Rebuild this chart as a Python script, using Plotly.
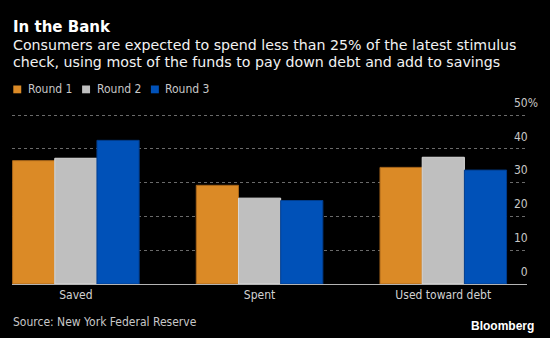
import plotly.graph_objects as go

# Share of the stimulus check, by survey round (percent)
categories = ["Saved", "Spent", "Used toward debt"]
series_names = ["Round 1", "Round 2", "Round 3"]
round1 = [36.5, 29.2, 34.5]
round2 = [37.2, 25.4, 37.5]
round3 = [42.5, 24.7, 33.7]
series_values = [round1, round2, round3]

y_ticks = [0, 10, 20, 30, 40, 50]
y_tick_labels = ["0", "10", "20", "30", "40", "50%"]

colors = ["#DB8A26", "#BFBFBF", "#0051B8"]
edge_colors = ["#A8661A", "#D9D9D9", "#003C8C"]

W, H = 550, 338
ML, MR, MT, MB = 12, 20, 92, 54
PW, PH = W - ML - MR, H - MT - MB
PX_PER_UNIT = 169 / 50          # vertical pixels per percentage point
Y_MAX = PH / PX_PER_UNIT        # headroom above the 50% line for its label

REG = "DejaVu Sans Condensed, DejaVu Sans, sans-serif"
SUB = "DejaVu Sans, sans-serif"
BOLD = "DejaVu Sans, sans-serif"


def px_x(x):
    return (x - ML) / PW


def px_y(y):
    return (H - MB - y) / PH


fig = go.Figure()
xs = list(range(len(categories)))
for name, vals, c, ec in zip(series_names, series_values, colors, edge_colors):
    fig.add_trace(go.Bar(
        x=xs, y=vals, name=name,
        marker=dict(color=c, line=dict(color=ec, width=1)),
        showlegend=False, hoverinfo="skip",
    ))

annotations = [
    dict(text="<b>In the Bank</b>", x=px_x(11), y=px_y(26.5),
         font=dict(family=BOLD, size=15, color="#ffffff")),
    dict(text="Consumers are expected to spend less than 25% of the latest stimulus",
         x=px_x(11), y=px_y(45), font=dict(family=SUB, size=14.2, color="#f2f2f2")),
    dict(text="check, using most of the funds to pay down debt and add to savings",
         x=px_x(11), y=px_y(61.8), font=dict(family=SUB, size=14.2, color="#f2f2f2")),
    dict(text="Source: New York Federal Reserve", x=px_x(11), y=px_y(322),
         font=dict(family=REG, size=12, color="#c8c8c8")),
    dict(text="<b>Bloomberg</b>", x=px_x(539), y=px_y(326), xanchor="right",
         font=dict(family="Liberation Sans, Arial, sans-serif", size=12, color="#ffffff")),
]

# Legend row: small square swatches followed by the series name
shapes = []
step = 69.2
for i, (name, c) in enumerate(zip(series_names, colors)):
    x0 = 13.3 + i * step
    shapes.append(dict(type="rect", xref="paper", yref="paper",
                       x0=px_x(x0), x1=px_x(x0 + 8), y0=px_y(93.3), y1=px_y(85.5),
                       fillcolor=c, line=dict(width=0)))
    annotations.append(dict(text=name, x=px_x(x0 + 12.5), y=px_y(89),
                            font=dict(family=REG, size=12, color="#c8c8c8")))

for a in annotations:
    a.setdefault("xref", "paper")
    a.setdefault("yref", "paper")
    a.setdefault("xanchor", "left")
    a.setdefault("yanchor", "middle")
    a.setdefault("showarrow", False)
    a.setdefault("align", "left")

# pad the plain numbers so their digits line up with the "50" of "50%"
pad = "\u00a0" * 3
tick_text = [t if t.endswith("%") else t + pad for t in y_tick_labels]

fig.update_layout(
    width=W, height=H,
    margin=dict(l=ML, r=MR, t=MT, b=MB, pad=0),
    paper_bgcolor="#000000", plot_bgcolor="#000000",
    barmode="group", bargap=0.311, bargroupgap=0,
    annotations=annotations, shapes=shapes,
    showlegend=False,
    xaxis=dict(
        range=[-0.3476, 2.4557], tickmode="array", tickvals=xs, ticktext=categories,
        showgrid=False, zeroline=False, showline=True, linecolor="#b4b4b4", linewidth=1,
        ticks="", tickfont=dict(family=REG, size=12, color="#d2d2d2"), fixedrange=True,
    ),
    yaxis=dict(
        range=[0, Y_MAX], side="right", tickmode="array", tickvals=y_ticks, ticktext=tick_text,
        showgrid=True, gridcolor="#6a6a6a", griddash="dot", gridwidth=1,
        zeroline=False, showline=False, ticks="", ticklabelposition="inside top",
        ticklabelstandoff=-14, ticklabelshift=-4,
        tickfont=dict(family=REG, size=12, color="#c8c8c8"), fixedrange=True,
    ),
)

fig.write_html("out.html", config={"displayModeBar": False})
